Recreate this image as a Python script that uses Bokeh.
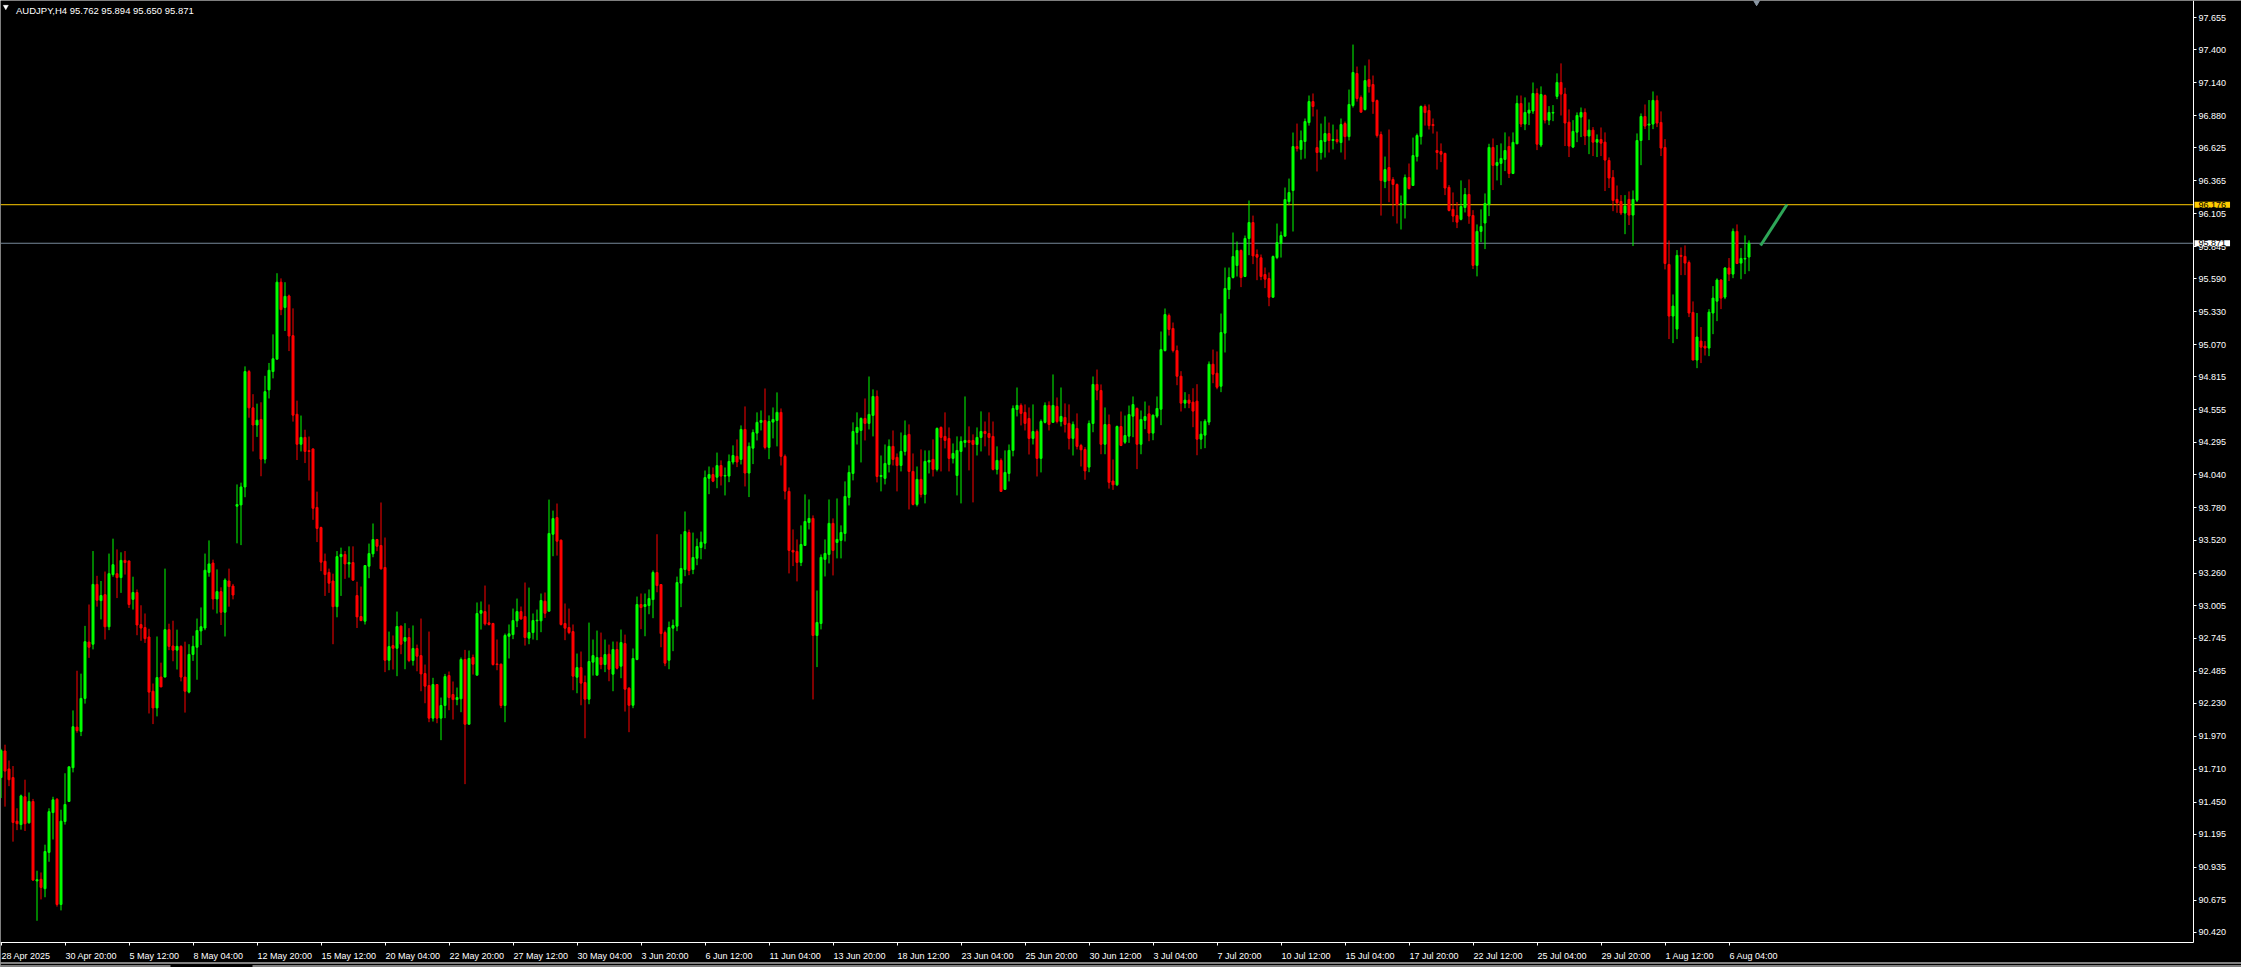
import numpy as np
import pandas as pd
from bokeh.plotting import figure
from bokeh.models import (ColumnDataSource, Range1d, LinearAxis, FixedTicker, Label,
                          PrintfTickFormatter, Grid)
from bokeh.embed import file_html
from bokeh.resources import INLINE

# ---------------- data (AUDJPY, H4) ----------------
symbol_title = "AUDJPY,H4  95.762 95.894 95.650 95.871"

opens = [
    91.644, 91.854, 91.712, 91.644, 91.299, 91.272, 91.492, 91.286, 91.455, 90.826,
    90.839, 90.765, 91.052, 91.367, 91.472, 90.640, 91.296, 91.455, 91.722, 92.043,
    92.009, 92.270, 92.716, 92.699, 93.172, 93.044, 93.091, 92.837, 93.250, 93.257,
    93.226, 93.362, 93.358, 93.054, 93.108, 92.854, 92.831, 92.756, 92.327, 92.195,
    92.439, 92.439, 92.814, 92.685, 92.652, 92.682, 92.439, 92.320, 92.618, 92.675,
    92.804, 92.827, 93.267, 93.341, 93.057, 93.115, 92.952, 93.199, 93.159, 93.791,
    93.801, 93.943, 94.856, 94.569, 94.433, 94.477, 94.163, 94.711, 94.856, 94.954,
    95.563, 95.363, 95.454, 95.140, 94.518, 94.281, 94.335, 94.230, 94.244, 93.781,
    93.622, 93.355, 93.267, 93.199, 92.996, 93.392, 93.409, 93.334, 93.345, 93.084,
    92.918, 92.881, 93.316, 93.414, 93.527, 93.480, 93.306, 92.572, 92.688, 92.667,
    92.842, 92.723, 92.752, 92.570, 92.665, 92.609, 92.467, 92.372, 92.114, 92.380,
    92.114, 92.214, 92.451, 92.301, 92.261, 92.267, 92.578, 92.066, 92.594, 92.454,
    92.944, 92.957, 92.868, 92.863, 92.543, 92.541, 92.214, 92.762, 92.775, 92.884,
    92.957, 92.918, 92.747, 92.791, 92.884, 92.884, 93.039, 92.960, 93.569, 93.701,
    93.522, 92.863, 92.831, 92.799, 92.438, 92.514, 92.396, 92.264, 92.557, 92.454,
    92.594, 92.538, 92.620, 92.462, 92.657, 92.525, 92.704, 92.351, 92.216, 92.578,
    93.013, 92.997, 93.005, 93.052, 93.266, 93.171, 92.791, 92.572, 92.826, 92.842,
    93.182, 93.290, 93.582, 93.290, 93.379, 93.464, 93.498, 94.012, 94.041, 94.020,
    94.113, 94.029, 94.029, 94.140, 94.185, 94.161, 94.398, 94.053, 94.250, 94.369,
    94.454, 94.469, 94.256, 94.456, 94.469, 94.533, 94.185, 93.908, 93.441, 93.433,
    93.346, 93.480, 93.662, 93.694, 92.768, 92.863, 93.370, 93.409, 93.655, 93.504,
    93.520, 93.575, 93.860, 94.050, 94.374, 94.390, 94.485, 94.446, 94.509, 94.659,
    94.026, 94.011, 94.121, 94.264, 94.177, 94.113, 94.224, 94.359, 94.066, 93.805,
    94.003, 93.884, 94.140, 94.161, 94.082, 94.414, 94.343, 94.327, 94.169, 94.034,
    94.224, 94.295, 94.311, 94.311, 94.279, 94.335, 94.382, 94.366, 94.343, 94.082,
    94.153, 93.924, 94.050, 94.232, 94.556, 94.588, 94.533, 94.485, 94.327, 94.382,
    94.169, 94.454, 94.588, 94.454, 94.580, 94.461, 94.493, 94.446, 94.327, 94.406,
    94.271, 94.239, 94.100, 94.445, 94.754, 94.706, 94.281, 94.437, 93.990, 93.960,
    94.421, 94.297, 94.345, 94.503, 94.564, 94.281, 94.469, 94.521, 94.369, 94.503,
    94.558, 95.022, 95.299, 95.197, 95.022, 94.819, 94.606, 94.630, 94.614, 94.622,
    94.321, 94.353, 94.456, 94.914, 94.843, 94.740, 95.160, 95.505, 95.600, 95.695,
    95.814, 95.608, 95.909, 96.035, 95.782, 95.756, 95.624, 95.592, 95.444, 95.758,
    95.869, 95.927, 96.201, 96.288, 96.636, 96.613, 96.676, 96.826, 96.992, 96.628,
    96.589, 96.676, 96.739, 96.684, 96.692, 96.668, 96.818, 96.715, 96.961, 97.214,
    97.024, 96.929, 97.166, 97.127, 97.000, 96.731, 96.359, 96.470, 96.375, 96.336,
    96.177, 96.177, 96.391, 96.328, 96.557, 96.715, 96.953, 96.921, 96.810, 96.605,
    96.597, 96.582, 96.313, 96.139, 96.091, 96.060, 96.154, 96.257, 96.091, 95.696,
    95.965, 96.031, 96.178, 96.629, 96.487, 96.503, 96.534, 96.637, 96.423, 96.658,
    96.977, 96.814, 96.901, 96.917, 97.056, 96.648, 97.040, 96.845, 96.901, 97.033,
    97.143, 97.051, 96.829, 96.632, 96.750, 96.869, 96.906, 96.719, 96.766, 96.671,
    96.692, 96.671, 96.526, 96.392, 96.218, 96.202, 96.110, 96.218, 96.094, 96.212,
    96.684, 96.874, 96.806, 96.814, 97.001, 96.827, 96.629, 95.703, 95.295, 95.192,
    95.775, 95.767, 95.719, 95.324, 94.947, 95.097, 95.057, 95.042, 95.319, 95.413,
    95.580, 95.445, 95.675, 95.627, 95.965, 95.714, 95.746, 95.762,
]

highs = [
    91.871, 91.904, 91.779, 91.735, 91.401, 91.509, 91.627, 91.526, 91.475, 90.907,
    90.893, 91.113, 91.401, 91.492, 91.482, 91.390, 91.678, 91.729, 92.175, 92.489,
    92.466, 92.844, 93.013, 93.436, 93.240, 93.199, 93.274, 93.416, 93.534, 93.449,
    93.426, 93.436, 93.358, 93.233, 93.132, 93.007, 92.942, 92.821, 92.388, 92.760,
    92.553, 93.297, 92.861, 92.885, 92.814, 92.690, 92.719, 92.699, 92.766, 92.902,
    92.990, 93.416, 93.520, 93.368, 93.291, 93.149, 93.220, 93.297, 93.176, 93.963,
    93.977, 94.897, 94.869, 94.677, 94.602, 94.613, 94.822, 94.924, 95.150, 95.634,
    95.593, 95.563, 95.465, 95.356, 94.626, 94.508, 94.396, 94.342, 94.247, 93.906,
    93.629, 93.416, 93.297, 93.257, 93.436, 93.463, 93.436, 93.473, 93.473, 93.193,
    93.155, 93.321, 93.495, 93.654, 93.532, 93.820, 93.543, 92.799, 92.768, 92.957,
    92.847, 92.865, 92.826, 92.847, 92.696, 92.902, 92.538, 92.799, 92.433, 92.380,
    92.277, 92.464, 92.483, 92.404, 92.356, 92.594, 92.654, 92.649, 92.617, 93.029,
    93.037, 93.163, 93.013, 92.868, 92.736, 92.546, 92.783, 92.855, 92.981, 93.060,
    92.997, 93.187, 93.147, 92.942, 92.973, 93.100, 93.108, 93.843, 93.756, 93.812,
    93.527, 93.021, 92.981, 92.855, 92.625, 92.641, 92.451, 92.870, 92.736, 92.807,
    92.791, 92.736, 92.696, 92.720, 92.720, 92.815, 92.775, 92.359, 92.665, 93.076,
    93.100, 93.100, 93.132, 93.282, 93.569, 93.171, 92.807, 92.878, 92.894, 93.234,
    93.569, 93.749, 93.606, 93.582, 93.535, 93.590, 94.073, 94.105, 94.097, 94.215,
    94.153, 94.097, 94.200, 94.272, 94.319, 94.430, 94.580, 94.295, 94.398, 94.533,
    94.548, 94.722, 94.509, 94.572, 94.691, 94.564, 94.200, 93.939, 93.607, 93.528,
    93.639, 93.884, 93.844, 93.718, 93.124, 93.409, 93.528, 93.844, 93.694, 93.852,
    93.639, 93.987, 94.113, 94.454, 94.533, 94.493, 94.643, 94.817, 94.715, 94.707,
    94.192, 94.279, 94.319, 94.390, 94.208, 94.374, 94.469, 94.438, 94.208, 94.105,
    94.240, 94.232, 94.232, 94.319, 94.414, 94.422, 94.533, 94.414, 94.287, 94.343,
    94.343, 94.659, 94.422, 94.359, 94.414, 94.541, 94.461, 94.533, 94.461, 94.264,
    94.169, 94.232, 94.279, 94.588, 94.730, 94.604, 94.596, 94.572, 94.596, 94.398,
    94.477, 94.612, 94.620, 94.833, 94.651, 94.730, 94.604, 94.596, 94.461, 94.525,
    94.284, 94.258, 94.469, 94.817, 94.872, 94.754, 94.572, 94.516, 94.160, 94.429,
    94.540, 94.508, 94.587, 94.659, 94.572, 94.548, 94.619, 94.587, 94.516, 94.659,
    95.173, 95.355, 95.315, 95.244, 95.062, 94.859, 94.693, 94.677, 94.724, 94.756,
    94.463, 94.479, 94.936, 95.030, 95.015, 95.315, 95.679, 95.679, 95.956, 95.885,
    95.822, 95.932, 96.209, 96.090, 95.822, 95.782, 95.679, 95.640, 95.774, 96.027,
    95.964, 96.312, 96.383, 96.747, 96.818, 96.763, 96.858, 97.040, 97.056, 96.929,
    96.818, 96.874, 96.826, 96.810, 96.771, 96.858, 96.834, 97.087, 97.443, 97.269,
    97.040, 97.277, 97.325, 97.198, 97.008, 96.755, 96.557, 96.771, 96.394, 96.344,
    96.249, 96.415, 96.502, 96.707, 96.739, 96.961, 96.969, 96.969, 96.858, 96.755,
    96.661, 96.587, 96.331, 96.273, 96.197, 96.368, 96.308, 96.376, 96.133, 96.020,
    96.139, 96.265, 96.658, 96.700, 96.648, 96.661, 96.748, 96.716, 96.748, 97.040,
    97.040, 97.025, 96.985, 97.143, 97.096, 97.112, 97.048, 96.956, 96.964, 97.215,
    97.294, 97.101, 96.930, 96.845, 96.906, 96.945, 96.938, 96.851, 96.790, 96.732,
    96.787, 96.748, 96.550, 96.450, 96.328, 96.252, 96.252, 96.281, 96.289, 96.740,
    96.898, 96.969, 97.004, 97.072, 97.040, 96.914, 96.695, 95.893, 95.466, 95.817,
    95.838, 95.854, 95.735, 95.411, 95.319, 95.208, 95.097, 95.350, 95.532, 95.593,
    95.587, 95.682, 95.754, 95.988, 96.020, 95.833, 95.933, 95.894,
]

lows = [
    91.482, 91.414, 91.576, 91.137, 91.228, 91.232, 91.221, 91.279, 90.826, 90.511,
    90.680, 90.697, 90.978, 91.154, 90.623, 90.593, 91.272, 91.455, 91.685, 91.999,
    91.972, 92.229, 92.591, 92.658, 92.996, 92.895, 92.736, 92.810, 93.233, 93.064,
    93.105, 93.250, 92.986, 92.973, 92.770, 92.726, 92.709, 92.151, 92.067, 92.128,
    92.361, 92.439, 92.652, 92.564, 92.499, 92.405, 92.158, 92.310, 92.567, 92.418,
    92.692, 92.810, 93.233, 92.973, 92.942, 92.851, 92.760, 92.996, 93.054, 93.497,
    93.483, 93.862, 94.491, 94.224, 94.339, 94.028, 94.129, 94.643, 94.802, 94.954,
    95.302, 95.177, 95.018, 94.460, 94.156, 94.224, 94.132, 93.994, 93.683, 93.507,
    93.277, 93.081, 93.105, 92.699, 92.912, 93.081, 93.216, 93.226, 93.199, 92.827,
    92.881, 92.855, 93.221, 93.387, 93.435, 93.290, 92.478, 92.493, 92.499, 92.446,
    92.620, 92.501, 92.557, 92.530, 92.485, 92.327, 92.232, 92.082, 92.087, 92.074,
    91.940, 92.114, 92.177, 92.103, 92.216, 92.161, 91.592, 92.066, 92.459, 92.454,
    92.815, 92.847, 92.847, 92.530, 92.493, 92.193, 92.082, 92.586, 92.739, 92.834,
    92.892, 92.688, 92.699, 92.736, 92.731, 92.794, 92.907, 92.960, 93.395, 93.400,
    92.847, 92.731, 92.778, 92.335, 92.311, 92.216, 91.955, 92.224, 92.451, 92.454,
    92.501, 92.478, 92.406, 92.327, 92.499, 92.430, 92.166, 92.003, 92.193, 92.572,
    92.818, 92.762, 92.936, 92.905, 93.110, 92.675, 92.525, 92.501, 92.644, 92.802,
    92.992, 93.237, 93.245, 93.253, 93.324, 93.371, 93.451, 93.886, 93.981, 93.933,
    93.955, 93.876, 93.981, 94.121, 94.100, 94.121, 93.947, 93.863, 94.124, 94.311,
    94.390, 94.240, 94.163, 94.327, 94.264, 94.113, 93.844, 93.259, 93.317, 93.196,
    93.317, 93.480, 93.607, 92.262, 92.518, 92.816, 93.235, 93.338, 93.243, 93.378,
    93.378, 93.512, 93.797, 93.995, 94.279, 94.137, 94.311, 94.398, 94.343, 93.979,
    93.908, 93.963, 94.058, 94.113, 93.908, 94.066, 94.192, 93.765, 93.797, 93.789,
    93.860, 93.813, 94.050, 94.026, 94.066, 94.066, 94.248, 94.066, 94.129, 93.876,
    93.813, 94.256, 94.074, 93.821, 94.192, 94.224, 94.264, 94.192, 94.074, 94.042,
    93.908, 93.924, 93.987, 94.185, 94.501, 94.430, 94.390, 94.200, 94.279, 94.026,
    94.058, 94.446, 94.390, 94.454, 94.446, 94.422, 94.374, 94.240, 94.192, 94.240,
    94.105, 94.000, 94.060, 94.376, 94.630, 94.202, 94.202, 93.930, 93.920, 93.950,
    94.266, 94.284, 94.292, 94.337, 94.084, 94.202, 94.400, 94.305, 94.313, 94.487,
    94.432, 95.015, 95.141, 95.007, 94.748, 94.540, 94.566, 94.566, 94.416, 94.194,
    94.242, 94.250, 94.432, 94.764, 94.716, 94.693, 95.007, 95.429, 95.592, 95.608,
    95.524, 95.603, 95.777, 95.706, 95.579, 95.579, 95.516, 95.373, 95.444, 95.745,
    95.758, 95.927, 96.172, 95.964, 96.597, 96.533, 96.541, 96.802, 96.874, 96.439,
    96.533, 96.549, 96.589, 96.613, 96.660, 96.589, 96.533, 96.684, 96.945, 96.992,
    96.908, 96.921, 97.063, 96.895, 96.707, 96.090, 96.307, 96.196, 96.085, 96.027,
    95.980, 96.067, 96.296, 96.328, 96.518, 96.652, 96.802, 96.771, 96.739, 96.454,
    96.513, 96.252, 96.123, 96.038, 95.991, 96.052, 96.115, 96.025, 95.667, 95.609,
    95.880, 95.825, 96.086, 96.292, 96.368, 96.331, 96.442, 96.387, 96.418, 96.655,
    96.790, 96.766, 96.806, 96.895, 96.608, 96.632, 96.819, 96.806, 96.837, 97.011,
    96.882, 96.640, 96.553, 96.624, 96.671, 96.711, 96.648, 96.576, 96.561, 96.553,
    96.561, 96.284, 96.308, 96.125, 96.112, 96.094, 95.943, 96.015, 95.849, 96.197,
    96.489, 96.774, 96.687, 96.774, 96.790, 96.561, 95.664, 95.113, 95.081, 95.113,
    95.619, 95.619, 95.287, 94.947, 94.883, 94.923, 94.983, 94.978, 95.152, 95.255,
    95.350, 95.429, 95.572, 95.595, 95.706, 95.587, 95.627, 95.650,
]

closes = [
    91.857, 91.695, 91.627, 91.289, 91.279, 91.499, 91.279, 91.455, 90.833, 90.836,
    90.775, 91.059, 91.374, 91.468, 90.640, 91.299, 91.431, 91.729, 92.046, 92.016,
    92.270, 92.719, 92.675, 93.172, 93.047, 93.084, 92.837, 93.257, 93.328, 93.226,
    93.362, 93.345, 93.013, 93.108, 92.851, 92.827, 92.743, 92.320, 92.195, 92.435,
    92.361, 92.814, 92.682, 92.652, 92.682, 92.439, 92.327, 92.618, 92.682, 92.807,
    92.837, 93.284, 93.334, 93.057, 93.115, 92.952, 93.206, 93.155, 93.088, 93.804,
    93.943, 94.856, 94.569, 94.433, 94.471, 94.163, 94.697, 94.866, 94.957, 95.563,
    95.346, 95.451, 95.137, 94.511, 94.281, 94.335, 94.224, 94.224, 93.774, 93.615,
    93.348, 93.250, 93.182, 92.996, 93.392, 93.409, 93.334, 93.345, 93.206, 92.915,
    92.886, 93.321, 93.416, 93.527, 93.474, 93.295, 92.572, 92.680, 92.667, 92.839,
    92.699, 92.752, 92.570, 92.665, 92.604, 92.464, 92.367, 92.114, 92.380, 92.114,
    92.214, 92.443, 92.277, 92.261, 92.277, 92.578, 92.066, 92.586, 92.541, 92.942,
    92.965, 92.860, 92.855, 92.538, 92.538, 92.214, 92.768, 92.781, 92.886, 92.957,
    92.899, 92.752, 92.791, 92.886, 92.889, 93.045, 92.944, 93.575, 93.693, 93.514,
    92.855, 92.826, 92.791, 92.446, 92.514, 92.391, 92.264, 92.562, 92.609, 92.594,
    92.538, 92.617, 92.501, 92.657, 92.509, 92.712, 92.343, 92.216, 92.586, 93.013,
    92.989, 93.013, 93.060, 93.266, 93.163, 92.783, 92.549, 92.831, 92.847, 93.187,
    93.298, 93.590, 93.282, 93.385, 93.472, 93.506, 94.017, 94.041, 93.989, 94.112,
    94.029, 94.034, 94.145, 94.192, 94.140, 94.398, 94.053, 94.264, 94.374, 94.454,
    94.469, 94.256, 94.461, 94.477, 94.533, 94.185, 93.910, 93.441, 93.428, 93.346,
    93.488, 93.670, 93.694, 92.768, 92.871, 93.386, 93.417, 93.655, 93.441, 93.528,
    93.583, 93.868, 94.058, 94.382, 94.414, 94.485, 94.446, 94.517, 94.659, 94.026,
    94.034, 94.129, 94.264, 94.161, 94.113, 94.224, 94.351, 94.066, 93.805, 94.003,
    93.884, 94.145, 94.153, 94.082, 94.406, 94.335, 94.311, 94.169, 94.208, 94.232,
    94.303, 94.311, 94.295, 94.279, 94.335, 94.382, 94.366, 94.335, 94.082, 94.153,
    93.908, 94.058, 94.232, 94.564, 94.588, 94.525, 94.446, 94.327, 94.382, 94.169,
    94.461, 94.588, 94.438, 94.588, 94.461, 94.501, 94.438, 94.327, 94.438, 94.264,
    94.237, 94.070, 94.445, 94.754, 94.709, 94.281, 94.437, 93.980, 93.960, 94.421,
    94.271, 94.350, 94.516, 94.595, 94.281, 94.477, 94.500, 94.369, 94.511, 94.564,
    95.030, 95.307, 95.189, 95.022, 94.819, 94.606, 94.630, 94.606, 94.543, 94.321,
    94.361, 94.463, 94.914, 94.835, 94.732, 95.165, 95.513, 95.600, 95.766, 95.814,
    95.600, 95.909, 96.035, 95.771, 95.761, 95.608, 95.587, 95.444, 95.766, 95.877,
    95.932, 96.217, 96.272, 96.636, 96.620, 96.684, 96.834, 96.992, 96.953, 96.589,
    96.684, 96.739, 96.684, 96.692, 96.676, 96.810, 96.715, 96.969, 97.222, 97.016,
    96.908, 97.158, 97.111, 96.992, 96.723, 96.367, 96.454, 96.367, 96.336, 96.177,
    96.185, 96.391, 96.304, 96.565, 96.723, 96.953, 96.905, 96.802, 96.802, 96.589,
    96.576, 96.308, 96.131, 96.086, 96.038, 96.162, 96.257, 96.086, 95.696, 95.965,
    96.004, 96.186, 96.629, 96.487, 96.510, 96.542, 96.605, 96.423, 96.669, 96.977,
    96.814, 96.906, 96.924, 97.056, 96.655, 97.048, 96.845, 96.906, 96.906, 97.143,
    97.051, 96.822, 96.640, 96.756, 96.882, 96.906, 96.719, 96.766, 96.671, 96.692,
    96.663, 96.529, 96.387, 96.210, 96.191, 96.110, 96.165, 96.094, 96.218, 96.684,
    96.874, 96.798, 96.814, 97.001, 96.822, 96.624, 95.711, 95.295, 95.374, 95.775,
    95.767, 95.714, 95.319, 94.947, 95.129, 95.049, 95.042, 95.326, 95.437, 95.580,
    95.437, 95.675, 95.627, 95.965, 95.711, 95.751, 95.751, 95.871,
]

date_labels = [
    "28 Apr 2025", "30 Apr 20:00", "5 May 12:00", "8 May 04:00", "12 May 20:00",
    "15 May 12:00", "20 May 04:00", "22 May 20:00", "27 May 12:00", "30 May 04:00",
    "3 Jun 20:00", "6 Jun 12:00", "11 Jun 04:00", "13 Jun 20:00", "18 Jun 12:00",
    "23 Jun 04:00", "25 Jun 20:00", "30 Jun 12:00", "3 Jul 04:00", "7 Jul 20:00",
    "10 Jul 12:00", "15 Jul 04:00", "17 Jul 20:00", "22 Jul 12:00", "25 Jul 04:00",
    "29 Jul 20:00", "1 Aug 12:00", "6 Aug 04:00",
]
bars_per_label = 16

price_ticks = [
    90.420, 90.675, 90.935, 91.195, 91.450, 91.710, 91.970, 92.230, 92.485, 92.745,
    93.005, 93.260, 93.520, 93.780, 94.040, 94.295, 94.555, 94.815, 95.070, 95.330,
    95.590, 95.845, 96.105, 96.365, 96.625, 96.880, 97.140, 97.400, 97.655,
]

hline_level = 96.176          # yellow horizontal line
bid_level = 95.871            # current bid line
trend_x = [439.9, 446.5]      # green drawn line (bar index)
trend_y = [95.853, 96.178]
shift_marker_x = 438.9

# ---------------- styling / geometry ----------------
BULL = "#00FF00"
BEAR = "#FF0000"
YELLOW = "#FFCC00"
BIDGRAY = "#778899"
TREND = "#2EA658"
FG = "#FFFFFF"
FONT = "Liberation Sans"

W, H = 2241, 967
PX_PER_BAR = 4.0
PX_PER_PRICE = 126.4
X_START = -0.125
X_END = X_START + W / PX_PER_BAR
Y_TOP = 97.7916
Y_BOT = Y_TOP - H / PX_PER_PRICE


def sx(px):
    """page x pixel -> bar coordinate"""
    return X_START + px / PX_PER_BAR


def sy(py):
    """page y pixel -> price coordinate"""
    return Y_TOP - py / PX_PER_PRICE


AXIS_X = sx(2193)          # right price-axis position
AXIS_Y = sy(942)           # bottom time-axis position

n = len(closes)
df = pd.DataFrame(dict(x=np.arange(n), o=opens, h=highs, l=lows, c=closes))
df["top"] = df[["o", "c"]].max(axis=1)
df["bot"] = df[["o", "c"]].min(axis=1)
df["color"] = np.where(df["c"] > df["o"], BULL, BEAR)
src = ColumnDataSource(df)

p = figure(width=W, height=H, output_backend="svg", toolbar_location=None,
           x_range=Range1d(X_START, X_END), y_range=Range1d(Y_BOT, Y_TOP),
           x_axis_location=None, y_axis_location=None,
           min_border=0, min_border_left=0, min_border_right=0,
           min_border_top=0, min_border_bottom=0)
p.background_fill_color = "black"
p.border_fill_color = "black"
p.outline_line_color = None
for g in p.select(type=Grid):
    g.visible = False
p.center = [c for c in p.center if not isinstance(c, Grid)]

# horizontal lines (yellow level + bid line), up to the price axis
p.segment(x0=[X_START], x1=[AXIS_X], y0=[hline_level], y1=[hline_level],
          line_color=YELLOW, line_width=1)
p.segment(x0=[X_START], x1=[AXIS_X], y0=[bid_level], y1=[bid_level],
          line_color=BIDGRAY, line_width=1)

# candles
p.segment(x0="x", y0="l", x1="x", y1="h", source=src, line_color="color", line_width=1)
p.vbar(x="x", width=0.5, top="top", bottom="bot", source=src,
       fill_color="color", line_color="color", line_width=1)

# trend line drawn on chart
p.line(x=trend_x, y=trend_y, line_color=TREND, line_width=3)

# chart shift marker at top
p.scatter(x=[shift_marker_x], y=[Y_TOP], marker="inverted_triangle", size=9,
          fill_color="#8A96A3", line_color="#8A96A3")

# window chrome: tab strip lines at the very bottom
p.segment(x0=[sx(0)], x1=[sx(W)], y0=[sy(962.5)], y1=[sy(962.5)], line_color=FG, line_width=1)
p.segment(x0=[sx(0), sx(252)], x1=[sx(170), sx(W)], y0=[sy(965.5)] * 2, y1=[sy(965.5)] * 2,
          line_color=FG, line_width=1)

# title triangle
p.scatter(x=[sx(5.3)], y=[sy(6.3)], marker="inverted_triangle", size=5,
          fill_color=FG, line_color=FG, line_width=0.5)

# right price axis (fixed at the chart's right edge)
yax = LinearAxis(ticker=FixedTicker(ticks=price_ticks, minor_ticks=[]),
                 formatter=PrintfTickFormatter(format="%.3f"),
                 fixed_location=AXIS_X, bounds=(AXIS_Y, Y_TOP))
yax.axis_line_color = FG
yax.major_tick_line_color = FG
yax.minor_tick_line_color = None
yax.major_tick_out = 3
yax.major_tick_in = 0
yax.major_label_standoff = 2
yax.major_label_text_color = FG
yax.major_label_text_font = FONT
yax.major_label_text_font_size = "9px"
p.add_layout(yax, "right")

# bottom time axis (ticks; labels left-aligned after each tick)
tick_bars = [k * bars_per_label for k in range(len(date_labels))]
xax = LinearAxis(ticker=FixedTicker(ticks=tick_bars, minor_ticks=[]),
                 major_label_overrides={t: "" for t in tick_bars},
                 fixed_location=AXIS_Y, bounds=(X_START, AXIS_X))
xax.axis_line_color = FG
xax.major_tick_line_color = FG
xax.minor_tick_line_color = None
xax.major_tick_out = 3
xax.major_tick_in = 0
xax.major_label_text_font_size = "1px"
p.add_layout(xax, "below")

for k, txt in enumerate(date_labels):
    p.add_layout(Label(x=tick_bars[k], x_units="data", x_offset=0.5,
                       y=H - 955.5, y_units="screen", text=txt,
                       text_align="left", text_baseline="alphabetic",
                       text_color=FG, text_font=FONT, text_font_size="9px"))

# title
p.add_layout(Label(x=15.5, x_units="screen", y=H - 9.8, y_units="screen", text=symbol_title,
                   text_color=FG, text_font=FONT, text_font_size="9.5px",
                   text_align="left", text_baseline="alphabetic"))

# price tags on the axis
p.add_layout(Label(x=AXIS_X, x_units="data", x_offset=1, y=hline_level, y_units="data",
                   text="%.3f" % hline_level, text_color="black", text_font=FONT,
                   text_font_size="9px", text_align="left", text_baseline="middle",
                   background_fill_color=YELLOW, padding=(4, 0)))
p.add_layout(Label(x=AXIS_X, x_units="data", x_offset=1, y=bid_level, y_units="data",
                   text="%.3f" % bid_level, text_color="black", text_font=FONT,
                   text_font_size="9px", text_align="left", text_baseline="middle",
                   background_fill_color="white", padding=(4, 0)))

open("out.html", "w").write(file_html(p, INLINE))
